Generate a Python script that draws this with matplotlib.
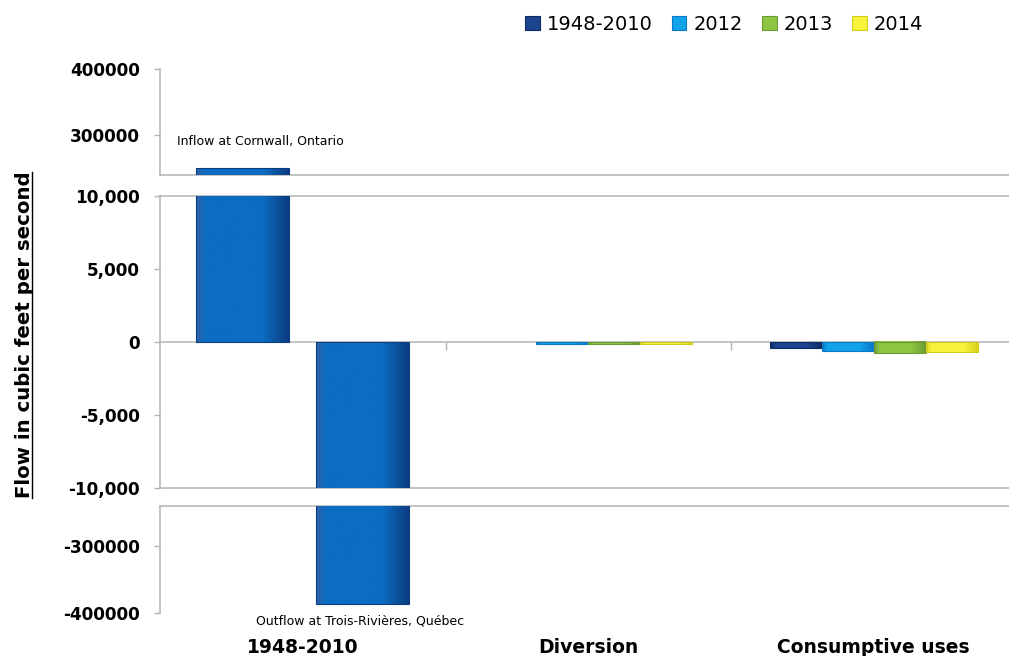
import numpy as np
import matplotlib
matplotlib.use("Agg")
import matplotlib.pyplot as plt
from matplotlib.colors import LinearSegmentedColormap
from matplotlib.patches import Patch
from matplotlib.lines import Line2D
from matplotlib.ticker import FuncFormatter

# ---- data -------------------------------------------------------------
categories = ["1948-2010", "Diversion", "Consumptive uses"]
series = ["1948-2010", "2012", "2013", "2014"]

# long-term water balance (cfs)
inflow_cornwall = 250000
outflow_trois_rivieres = -386000

diversion = [0, -120, -130, -130]
consumptive = [-390, -600, -780, -670]

top_ticks = [300000, 400000]
mid_ticks = [-10000, -5000, 0, 5000, 10000]
bot_ticks = [-400000, -300000]

# ---- styling ----------------------------------------------------------
series_colors = [  # (face, shade, edge)
    ("#1C4590", "#0E2A60", "#0E2A60"),
    ("#12A3E8", "#0A78C8", "#0A78C8"),
    ("#8DC641", "#6E9A33", "#6E9A33"),
    ("#F8F43C", "#D8D41C", "#CFCB1A"),
]
balance_color = ("#0A6DC2", "#0B3C80", "#0B3C80")
GREY = "#B4B4B4"

W, H = 1009, 656
fig = plt.figure(figsize=(W / 100, H / 100), dpi=100)


def px_axes(left, top, right, bottom):
    return fig.add_axes([left / W, 1 - bottom / H, (right - left) / W, (bottom - top) / H])


ax_top = px_axes(160, 69, 1016.5, 175)
ax_mid = px_axes(160, 196, 1016.5, 488)
ax_bot = px_axes(160, 506, 1016.5, 613.3)
axes = [ax_top, ax_mid, ax_bot]
limits = [(240000, 400000), (-10000, 10000), (-400000, -240000)]

grad = np.linspace(0, 1, 128)[None, :]


def shaded_bars(ax, x, heights, width, colors):
    """Bars with a horizontal light-to-dark fill, cut to the axis range."""
    face, shade, edge = colors
    cmap = LinearSegmentedColormap.from_list(
        "bar", [(0, "#3060A8" if face == balance_color[0] else shade),
                (0.1, face), (0.72, face), (1, shade)])
    bars = ax.bar(x, heights, width, facecolor="none", edgecolor=edge,
                  linewidth=0.8, zorder=4)
    lo_lim, hi_lim = ax.get_ylim()
    for p in bars:
        x0, y0, w, h = p.get_x(), p.get_y(), p.get_width(), p.get_height()
        if h == 0:
            p.set_linewidth(0)
            continue
        lo = max(min(y0, y0 + h), lo_lim)
        hi = min(max(y0, y0 + h), hi_lim)
        if hi <= lo:
            continue
        ax.imshow(grad, extent=[x0, x0 + w, lo, hi], cmap=cmap, origin="lower",
                  aspect="auto", interpolation="bilinear", zorder=3)
    ax.set_ylim(lo_lim, hi_lim)
    return bars


pair_offset, pair_width = 0.21, 0.325
group_width = 0.728
bar_w = group_width / len(series)
offsets = (np.arange(len(series)) - (len(series) - 1) / 2) * bar_w

for ax, lim in zip(axes, limits):
    ax.set_xlim(-0.5, 2.5)
    ax.set_ylim(*lim)
    shaded_bars(ax, [0 - pair_offset], [inflow_cornwall], pair_width, balance_color)
    shaded_bars(ax, [0 + pair_offset], [outflow_trois_rivieres], pair_width, balance_color)
    for i, s in enumerate(series):
        shaded_bars(ax, [1 + offsets[i], 2 + offsets[i]],
                    [diversion[i], consumptive[i]], bar_w, series_colors[i])
    ax.set_xlim(-0.5, 2.5)
    ax.set_ylim(*lim)
    ax.patch.set_alpha(0)
    for sp in ax.spines.values():
        sp.set_color(GREY)
        sp.set_linewidth(1.1)
    ax.spines["right"].set_visible(False)
    ax.tick_params(axis="y", length=4.5, width=1.0, color=GREY, pad=10)

TICK_FS = 12.2

# top segment
ax_top.spines["top"].set_visible(False)
ax_top.set_xticks([])
ax_top.set_yticks(top_ticks, [str(v) for v in top_ticks],
                  fontsize=TICK_FS, fontweight="bold")

# middle segment: zero line carries the category separators
ax_mid.spines["bottom"].set_position(("data", 0))
ax_mid.axhline(-10000, color=GREY, lw=1.1, clip_on=False, zorder=2)
ax_mid.set_xticks([0.5, 1.5], ["", ""])
ax_mid.tick_params(axis="x", length=6, width=1.0, color=GREY, direction="out")
ax_mid.set_yticks(mid_ticks)
ax_mid.yaxis.set_major_formatter(FuncFormatter(lambda v, _: f"{v:,.0f}"))
for lbl in ax_mid.get_yticklabels():
    lbl.set_fontsize(TICK_FS)
    lbl.set_fontweight("bold")

# bottom segment carries the category names
ax_bot.spines["bottom"].set_visible(False)
ax_bot.set_yticks(bot_ticks, [str(v) for v in bot_ticks],
                  fontsize=TICK_FS, fontweight="bold")
ax_bot.set_xticks(range(len(categories)), categories,
                  fontsize=13.5, fontweight="bold")
ax_bot.tick_params(axis="x", length=0, pad=18)

# bar notes
ax_top.text(-0.44, 290000, "Inflow at Cornwall, Ontario", fontsize=9,
            ha="left", va="center")
ax_bot.text(-0.164, -411500, "Outflow at Trois-Rivières, Québec", fontsize=9,
            ha="left", va="center", clip_on=False)

# axis title with underline
ylab = fig.text(25 / W, 1 - 335 / H, "Flow in cubic feet per second",
                rotation=90, ha="center", va="center", fontsize=14.2,
                fontweight="bold")

# legend
handles = [Patch(facecolor=c[0], edgecolor=c[2], linewidth=0.8) for c in series_colors]
fig.legend(handles, series, loc="center", bbox_to_anchor=(724 / W, 1 - 24 / H),
           ncol=4, frameon=False, fontsize=14, handlelength=0.75,
           handleheight=0.7, handletextpad=0.35, columnspacing=1.0,
           borderpad=0)

fig.canvas.draw()
bb = ylab.get_window_extent(fig.canvas.get_renderer())
ux = (bb.x1 - 2.5) / W
fig.add_artist(Line2D([ux, ux], [bb.y0 / H, bb.y1 / H], color="black", lw=1.0))

fig.savefig("out.png", dpi=100)
